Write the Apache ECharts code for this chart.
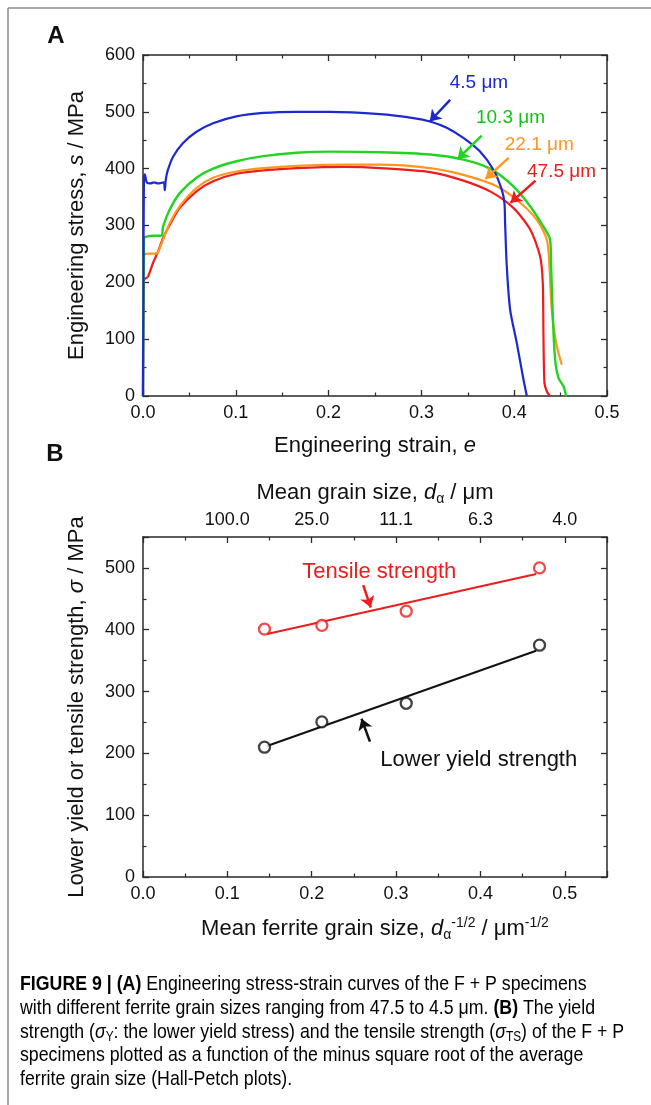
<!DOCTYPE html>
<html lang="en">
<head>
<meta charset="UTF-8">
<title>Figure 9</title>
<script src="https://cdn.jsdelivr.net/npm/echarts@6/dist/echarts.min.js"></script>
<style>
  html, body { margin: 0; padding: 0; background: #fff; }
  #main { width: 651px; height: 1105px; }
</style>
</head>
<body>
<div id="main"></div>
<script>
// ---- panel A : engineering stress-strain curves ----
var blueStrain = [0, 0.0005, 0.001, 0.002, 0.004, 0.008, 0.012, 0.016, 0.02, 0.0225, 0.0235, 0.0245, 0.0265, 0.0324, 0.0432, 0.0576, 0.0755, 0.1007, 0.1295, 0.1655, 0.2014, 0.2553, 0.2914, 0.3093, 0.3273, 0.3452, 0.3632, 0.3776, 0.3866, 0.3895, 0.3902, 0.392, 0.3956, 0.4028, 0.41, 0.4136];
var blueStress = [0, 200, 385, 390, 376, 374, 376, 374, 375, 376, 362, 380, 396, 421, 445, 465, 480, 492, 498, 500, 500, 496, 489, 483, 472, 454, 430, 398, 363, 339, 304, 228, 152, 93, 29, 0];

var greenStrain = [0, 0.001, 0.003, 0.01, 0.0198, 0.0216, 0.0288, 0.0396, 0.0576, 0.0755, 0.1007, 0.1295, 0.1655, 0.2014, 0.2553, 0.3093, 0.3452, 0.374, 0.3991, 0.4172, 0.4315, 0.4387, 0.4398, 0.4416, 0.4441, 0.4477, 0.4531, 0.456];
var greenStress = [0, 278, 280, 282, 282, 298, 328, 357, 384, 400, 413, 422, 428, 430, 429, 425, 416, 400, 369, 334, 298, 275, 228, 140, 64, 32, 17, 0];

var orangeStrain = [0, 0.001, 0.015, 0.018, 0.0288, 0.0396, 0.0576, 0.0755, 0.1007, 0.1295, 0.1655, 0.219, 0.2553, 0.3093, 0.3452, 0.3812, 0.4064, 0.4244, 0.4352, 0.438, 0.4405, 0.4452, 0.4513];
var orangeStress = [0, 250, 251, 260, 304, 334, 366, 384, 395, 401, 405, 407, 407, 401, 389, 369, 340, 310, 275, 228, 152, 93, 55];

var redStrain = [0, 0.001, 0.003, 0.0054, 0.0108, 0.0162, 0.0216, 0.0288, 0.0396, 0.0576, 0.0755, 0.1007, 0.1295, 0.1655, 0.219, 0.2553, 0.3093, 0.3452, 0.374, 0.3991, 0.4172, 0.4279, 0.4308, 0.4315, 0.4326, 0.4352, 0.4387];
var redStress = [0, 205, 207, 210, 234, 254, 278, 301, 331, 360, 378, 391, 397, 401, 403, 401, 394, 379, 360, 331, 293, 246, 199, 111, 23, 8, 0];

var grainLabelsA = ['4.5 μm', '10.3 μm', '22.1 μm', '47.5 μm'];
var grainLabelXA = [0.362, 0.396, 0.427, 0.451];
var grainLabelYA = [551, 489, 442, 395];
var arrowFromA = [[0.331, 521], [0.365, 458], [0.394, 419], [0.423, 379]];
var arrowToA = [[0.309, 483], [0.339, 417], [0.369, 382], [0.396, 340]];

// ---- panel B : Hall-Petch plot ----
var invSqrtGrain = [0.144, 0.212, 0.312, 0.470];
var tensileStrength = [401, 407, 430, 500];
var yieldStrength = [210, 251, 281, 375];
var fitX = [0.147, 0.466];
var tensileFit = [393, 490];
var yieldFit = [212, 366];
var topTickValues = [0.1, 0.2, 0.3, 0.4, 0.5];
var topTickLabels = ['100.0', '25.0', '11.1', '6.3', '4.0'];

var noteTextsB = ['Tensile strength', 'Lower yield strength'];
var noteXB = [0.280, 0.398];
var noteYB = [493, 189];
var arrowFromB = [[0.261, 472], [0.269, 219]];
var arrowToB = [[0.270, 436], [0.259, 256]];

var FONT = 'Liberation Sans, Arial, sans-serif';
var BLUE = '#1a2ad0', GREEN = '#22d422', ORANGE = '#ff961e', RED = '#ee1c1c';
var AXC = '#2a2a2a';

function zip(a, b) { return a.map(function (v, i) { return [v, b[i]]; }); }

var richName = {
    n: { fontFamily: FONT, fontSize: 22, color: '#111', verticalAlign: 'middle', lineHeight: 26 },
    i: { fontFamily: FONT, fontSize: 22, color: '#111', fontStyle: 'italic', verticalAlign: 'middle', lineHeight: 26 },
    sub: { fontFamily: FONT, fontSize: 14, color: '#111', verticalAlign: 'bottom', lineHeight: 14 },
    sup: { fontFamily: FONT, fontSize: 14, color: '#111', verticalAlign: 'top', lineHeight: 14 }
};

function frameAxis(extra) {
    var base = {
        type: 'value',
        axisLine: { show: true, onZero: false, lineStyle: { color: AXC, width: 1.5 } },
        axisTick: { show: true, inside: true, length: 6, lineStyle: { color: AXC, width: 1.3 } },
        minorTick: { show: true, splitNumber: 2, length: 3.5, lineStyle: { color: AXC, width: 1.2 } },
        splitLine: { show: false },
        axisLabel: { show: false },
        nameTextStyle: { rich: richName }
    };
    for (var k in extra) base[k] = extra[k];
    return base;
}

var labelStyle = { fontFamily: FONT, fontSize: 18, color: '#111', margin: 8 };
function fixed1(v) { return v.toFixed(1); }

function curve(strain, stress, color, width) {
    return { type: 'line', xAxisIndex: 0, yAxisIndex: 0, data: zip(strain, stress), showSymbol: false,
             smooth: 0.25, lineStyle: { color: color, width: width } };
}

function noteSeries(xi, yi, texts, xs, ys, colors, size) {
    return {
        type: 'scatter', xAxisIndex: xi, yAxisIndex: yi, symbolSize: 0, itemStyle: { color: '#fff', opacity: 1 },
        label: { show: true, position: 'inside', formatter: '{b}', fontFamily: FONT, fontSize: size,
                 textBorderWidth: 0, opacity: 1 },
        emphasis: { disabled: true },
        data: texts.map(function (t, i) {
            return { name: t, value: [xs[i], ys[i]], label: { color: colors[i] } };
        }),
        z: 5
    };
}

function arrowSeries(xi, yi, from, to, colors) {
    return {
        type: 'lines', coordinateSystem: 'cartesian2d', xAxisIndex: xi, yAxisIndex: yi,
        symbol: ['none', 'arrow'], symbolSize: 11,
        lineStyle: { opacity: 1, width: 2.5, curveness: 0 },
        emphasis: { disabled: true },
        data: from.map(function (f, i) {
            return { coords: [f, to[i]], lineStyle: { color: colors[i], opacity: 1, width: 2.5 } };
        }),
        z: 5
    };
}

var option = {
    animation: false,
    backgroundColor: '#fff',
    grid: [
        { left: 143, top: 55, width: 464, height: 341 },
        { left: 143, top: 537, width: 464, height: 340 }
    ],
    xAxis: [
        frameAxis({ gridIndex: 0, position: 'bottom', min: 0, max: 0.5, interval: 0.1,
            axisLabel: Object.assign({ show: true, formatter: fixed1 }, labelStyle),
            name: '{n|Engineering strain, }{i|e}', nameLocation: 'middle', nameGap: 37 }),
        frameAxis({ gridIndex: 0, position: 'top', min: 0, max: 0.5, interval: 0.1 }),
        frameAxis({ gridIndex: 1, position: 'bottom', min: 0, max: 0.55, interval: 0.1,
            axisLabel: Object.assign({ show: true, formatter: function (v) { return v > 0.51 ? '' : v.toFixed(1); } }, labelStyle),
            name: '{n|Mean ferrite grain size, }{i|d}{sub|α}{sup|-1/2}{n| / μm}{sup|-1/2}', nameLocation: 'middle', nameGap: 39 }),
        frameAxis({ gridIndex: 1, position: 'top', min: 0, max: 0.55, interval: 0.1,
            axisLabel: Object.assign({ show: true, formatter: function (v) {
                for (var i = 0; i < topTickValues.length; i++) {
                    if (Math.abs(topTickValues[i] - v) < 1e-6) return topTickLabels[i];
                }
                return '';
            } }, labelStyle),
            name: '{n|Mean grain size, }{i|d}{sub|α}{n| / μm}', nameLocation: 'middle', nameGap: 31 })
    ],
    yAxis: [
        frameAxis({ gridIndex: 0, position: 'left', min: 0, max: 600, interval: 100,
            axisLabel: Object.assign({ show: true }, labelStyle),
            name: '{n|Engineering stress, }{i|s}{n| / MPa}', nameLocation: 'middle', nameGap: 53 }),
        frameAxis({ gridIndex: 0, position: 'right', min: 0, max: 600, interval: 100 }),
        frameAxis({ gridIndex: 1, position: 'left', min: 0, max: 550, interval: 100,
            axisLabel: Object.assign({ show: true, formatter: function (v) { return v > 510 ? '' : String(v); } }, labelStyle),
            name: '{n|Lower yield or tensile strength, }{i|σ}{n| / MPa}', nameLocation: 'middle', nameGap: 53 }),
        frameAxis({ gridIndex: 1, position: 'right', min: 0, max: 550, interval: 100 })
    ],
    series: [
        curve(redStrain, redStress, RED, 2.2),
        curve(orangeStrain, orangeStress, ORANGE, 2.2),
        curve(greenStrain, greenStress, GREEN, 2.4),
        curve(blueStrain, blueStress, BLUE, 2.2),
        arrowSeries(0, 0, arrowFromA, arrowToA, [BLUE, GREEN, ORANGE, RED]),
        noteSeries(0, 0, grainLabelsA, grainLabelXA, grainLabelYA, [BLUE, '#12c412', ORANGE, RED], 19),
        // panel B
        { type: 'line', xAxisIndex: 2, yAxisIndex: 2, data: zip(fitX, tensileFit), showSymbol: false, lineStyle: { color: RED, width: 2 }, z: 1 },
        { type: 'line', xAxisIndex: 2, yAxisIndex: 2, data: zip(fitX, yieldFit), showSymbol: false, lineStyle: { color: '#111', width: 2 }, z: 1 },
        { type: 'scatter', xAxisIndex: 2, yAxisIndex: 2, data: zip(invSqrtGrain, tensileStrength), symbol: 'circle', symbolSize: 11,
          itemStyle: { color: '#fff', borderColor: RED, borderWidth: 2.3 }, z: 3 },
        { type: 'scatter', xAxisIndex: 2, yAxisIndex: 2, data: zip(invSqrtGrain, yieldStrength), symbol: 'circle', symbolSize: 11,
          itemStyle: { color: '#fff', borderColor: '#111', borderWidth: 2.3 }, z: 3 },
        arrowSeries(2, 2, arrowFromB, arrowToB, [RED, '#111']),
        noteSeries(2, 2, noteTextsB, noteXB, noteYB, [RED, '#111'], 22)
    ],
    graphic: [
        { type: 'line', shape: { x1: 8, y1: 8, x2: 651, y2: 8 }, style: { stroke: '#8a8a8a', lineWidth: 1.5 } },
        { type: 'line', shape: { x1: 8, y1: 8, x2: 8, y2: 1105 }, style: { stroke: '#8a8a8a', lineWidth: 1.5 } },
        { type: 'text', x: 56, y: 36, style: { text: 'A', fontFamily: FONT, fontSize: 24, fontWeight: 'bold', fill: '#111', align: 'center', verticalAlign: 'middle' } },
        { type: 'text', x: 55, y: 454, style: { text: 'B', fontFamily: FONT, fontSize: 24, fontWeight: 'bold', fill: '#111', align: 'center', verticalAlign: 'middle' } }
    ]
};

// caption
var capRich = {
    n: { fontFamily: FONT, fontSize: 21, color: '#222', verticalAlign: 'middle', lineHeight: 25 },
    b: { fontFamily: FONT, fontSize: 21, color: '#111', fontWeight: 'bold', verticalAlign: 'middle', lineHeight: 25 },
    s: { fontFamily: FONT, fontSize: 21, color: '#222', fontStyle: 'italic', verticalAlign: 'middle', lineHeight: 25 },
    sub: { fontFamily: FONT, fontSize: 14, color: '#222', verticalAlign: 'bottom', lineHeight: 16 }
};
var captionLines = [
    '{b|FIGURE 9 | (A)}{n| Engineering stress-strain curves of the F + P specimens}',
    '{n|with different ferrite grain sizes ranging from 47.5 to 4.5 μm. }{b|(B)}{n| The yield}',
    '{n|strength (}{s|σ}{sub|Y}{n|: the lower yield stress) and the tensile strength (}{s|σ}{sub|TS}{n|) of the F + P}',
    '{n|specimens plotted as a function of the minus square root of the average}',
    '{n|ferrite grain size (Hall-Petch plots).}'
];
var captionY = [984, 1008, 1032, 1055, 1079];
captionLines.forEach(function (t, i) {
    option.graphic.push({
        type: 'text', x: 20, y: captionY[i], scaleX: 0.845,
        style: { text: t, rich: capRich, align: 'left', verticalAlign: 'middle' }
    });
});

var myChart = echarts.init(document.getElementById('main'));
myChart.setOption(option);
</script>
</body>
</html>
